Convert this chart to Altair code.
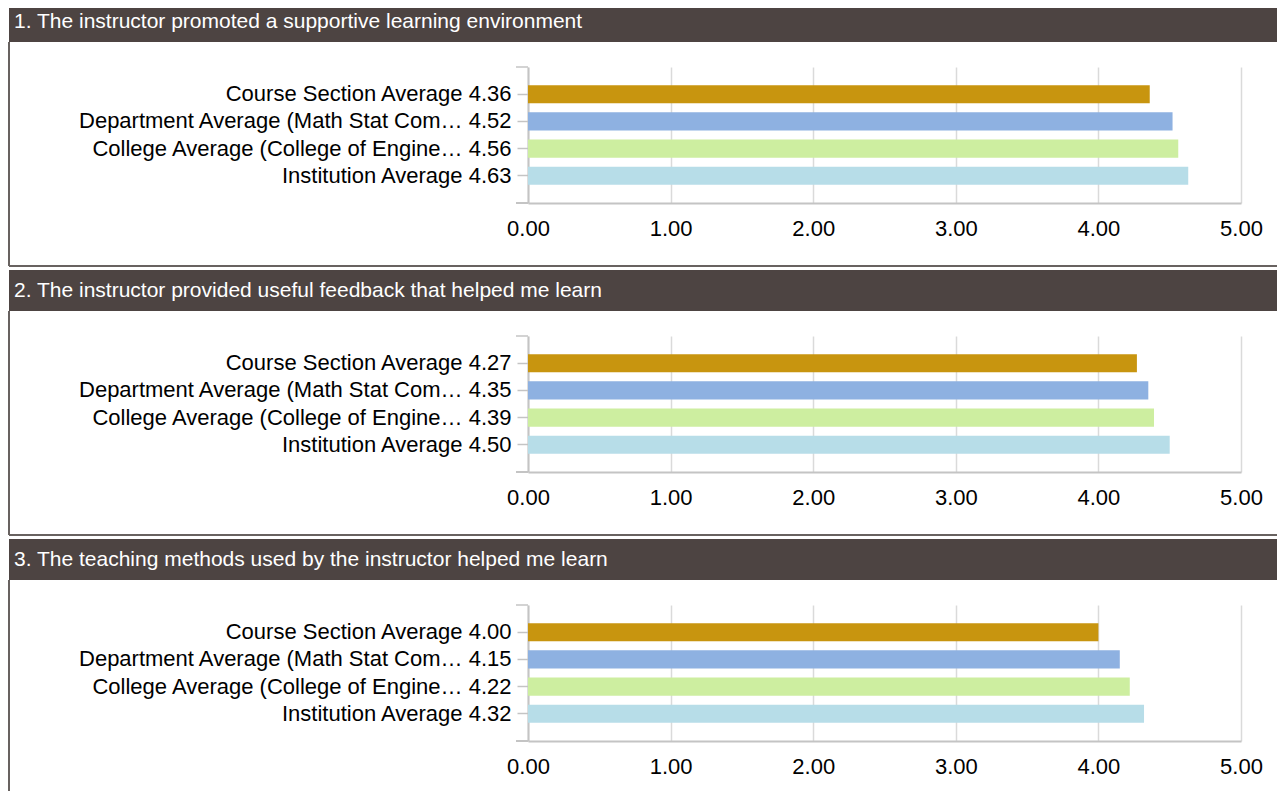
import altair as alt
import pandas as pd

questions = [
    "1. The instructor promoted a supportive learning environment",
    "2. The instructor provided useful feedback that helped me learn",
    "3. The teaching methods used by the instructor helped me learn",
]
groups = [
    "Course Section Average",
    "Department Average (Math Stat Com\u2026",
    "College Average (College of Engine\u2026",
    "Institution Average",
]
q1_values = [4.36, 4.52, 4.56, 4.63]
q2_values = [4.27, 4.35, 4.39, 4.50]
q3_values = [4.00, 4.15, 4.22, 4.32]
bar_colors = ["#c8950f", "#8eb1e1", "#cdeea0", "#b7dde8"]
tick_values = [0, 1, 2, 3, 4, 5]

FONT = "Liberation Sans"
HEADER = "#4d4442"
BORDER = "#686260"
AXIS = "#c4c4c4"
GRID = "#dadada"
PW, PH = 713, 136
LEFT, RIGHT = -519, 749


def panel(question, values, header_top, box_bottom, bottom_border):
    df = pd.DataFrame({"group": groups, "value": values})
    df["label"] = [f"{g} {v:.2f}" for g, v in zip(groups, values)]

    bars = alt.Chart(df).mark_bar().encode(
        x=alt.X(
            "value:Q",
            title=None,
            scale=alt.Scale(domain=[0, 5], nice=False),
            axis=alt.Axis(
                values=tick_values, format=".2f", grid=True, gridColor=GRID,
                gridWidth=1.5, ticks=False, domainColor=AXIS, domainWidth=2,
                labelFont=FONT, labelFontSize=22, labelColor="#000000",
                labelPadding=15, labelFlush=False,
            ),
        ),
        y=alt.Y(
            "label:N",
            sort=None,
            title=None,
            scale=alt.Scale(paddingInner=1 / 3, paddingOuter=2 / 3),
            axis=alt.Axis(
                labelFont=FONT, labelFontSize=22, labelColor="#000000",
                labelPadding=6, labelLimit=0, tickSize=11, tickColor=AXIS,
                tickWidth=1.5, domainColor=AXIS, domainWidth=2, grid=False,
            ),
        ),
        color=alt.Color("group:N", scale=alt.Scale(domain=groups, range=bar_colors), legend=None),
    )

    hdr = pd.DataFrame({"q": [question]})
    header_rect = alt.Chart(hdr).mark_rect(color=HEADER).encode(
        x=alt.value(LEFT), x2=alt.value(RIGHT), y=alt.value(header_top), y2=alt.value(-25)
    )
    header_text = alt.Chart(hdr).mark_text(
        align="left", baseline="middle", color="#ffffff", fontSize=21, font=FONT
    ).encode(x=alt.value(LEFT + 5), y=alt.value(-45), text="q:N")
    left_border = alt.Chart(hdr).mark_rule(color=BORDER, strokeWidth=2).encode(
        x=alt.value(LEFT), y=alt.value(-25), y2=alt.value(box_bottom)
    )
    layers = [header_rect, header_text, left_border]
    if bottom_border:
        layers.append(
            alt.Chart(hdr).mark_rule(color=BORDER, strokeWidth=2).encode(
                x=alt.value(LEFT), x2=alt.value(RIGHT), y=alt.value(box_bottom)
            )
        )
    top_tick = alt.Chart(hdr).mark_rule(color=AXIS, strokeWidth=1.5).encode(
        x=alt.value(-12), x2=alt.value(0), y=alt.value(0)
    )
    bottom_ext = alt.Chart(hdr).mark_rule(color=AXIS, strokeWidth=2).encode(
        x=alt.value(-12), x2=alt.value(0), y=alt.value(PH)
    )
    return alt.layer(*layers, bars, top_tick, bottom_ext).properties(width=PW, height=PH)


p1 = panel(questions[0], q1_values, -59, 199, True)
p2 = panel(questions[1], q2_values, -66, 199, True)
p3 = panel(questions[2], q3_values, -66, 186, False)

chart = (
    alt.vconcat(p1, p2, p3, spacing=3)
    .properties(padding=0, background="#ffffff")
    .configure_view(stroke=None)
)

chart.save("out.html", embed_options={"renderer": "svg", "actions": False})
